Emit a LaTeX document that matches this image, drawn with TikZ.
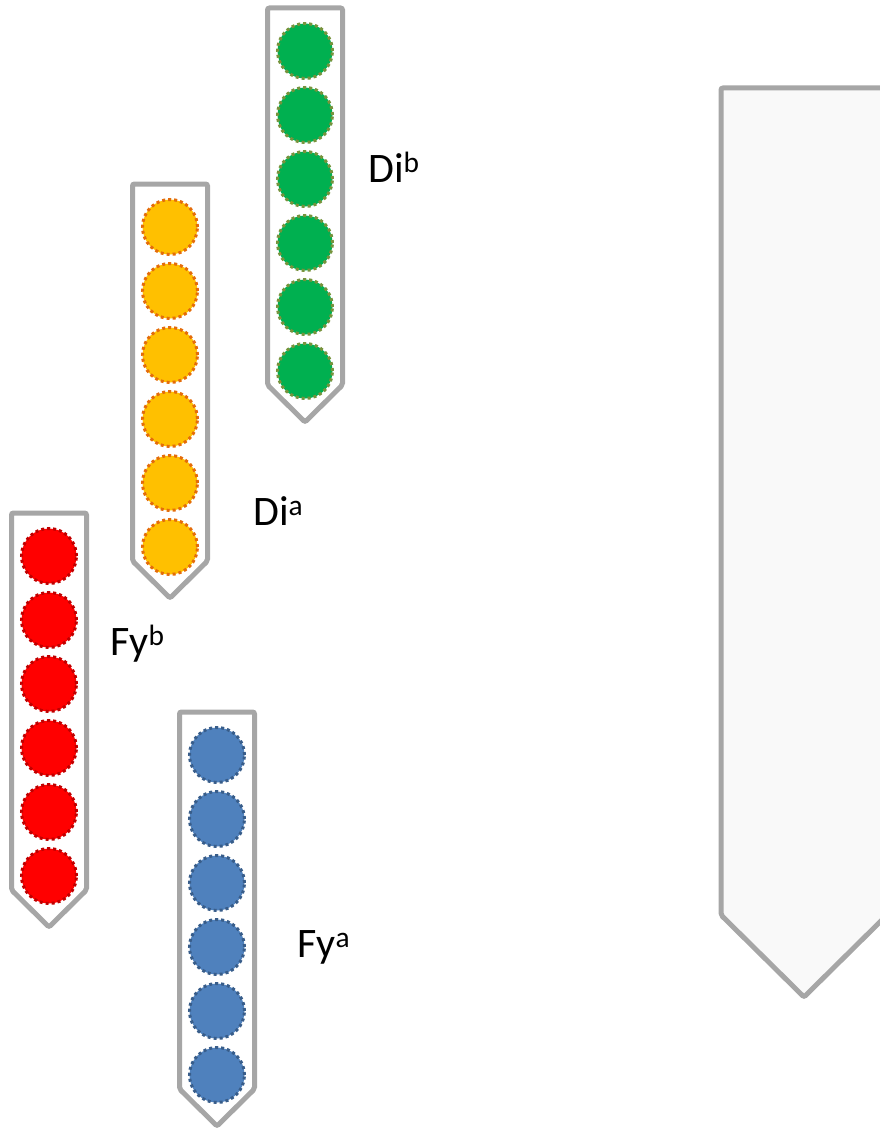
\documentclass[tikz,border=0pt]{standalone}
\usepackage{fontspec}
\setmainfont{Carlito}
\definecolor{tubegray}{HTML}{A6A6A6}
\definecolor{rackfill}{HTML}{F9F9F9}
\definecolor{dibfill}{HTML}{00B050}
\definecolor{dibline}{HTML}{77933C}
\definecolor{diafill}{HTML}{FFC000}
\definecolor{dialine}{HTML}{E46C0A}
\definecolor{fybfill}{HTML}{FF0000}
\definecolor{fybline}{HTML}{C00000}
\definecolor{fyafill}{HTML}{4F81BD}
\definecolor{fyaline}{HTML}{385D8A}
\begin{document}
\begin{tikzpicture}
[x=1pt, y=-1pt, line join=miter,
 tube/.style={draw=tubegray, line width=5pt, fill=white, rounded corners=2pt},
 bead/.style={circle, minimum size=55pt, inner sep=0pt, line width=3pt, dash pattern=on 3pt off 3pt},
 antigen/.style={anchor=base west, inner sep=0pt, font=\fontsize{42}{50}\selectfont}]
\useasboundingbox (0,0) rectangle (880,1129);
\clip (0,0) rectangle (880,1129);
% large holder on the right, cut by the page edge
\draw[tube, fill=rackfill] (804,997)--(721,915)--(721,88)--(887,88)--(887,915)--cycle;
% tubes with six beads each: centre x / top y / colour / name
\foreach \x/\t/\c/\n in {305/8/dib/Dib, 170/184/dia/Dia, 49/513/fyb/Fyb, 217/712/fya/Fya}{
  \draw[tube] (\x,\t+414)--(\x-37.5,\t+377)--(\x-37.5,\t)--(\x+37.5,\t)--(\x+37.5,\t+377)--cycle;
  \foreach \k in {0,...,5}
    \node[bead, fill=\c fill, draw=\c line] (\n-\k) at (\x,\t+43+64*\k) {};
}
\node[antigen] (Dib) at (368,182) {Di\textsuperscript{b}};
\node[antigen] (Dia) at (253,525) {Di\textsuperscript{a}};
\node[antigen] (Fyb) at (110,655) {Fy\textsuperscript{b}};
\node[antigen] (Fya) at (297,957) {Fy\textsuperscript{a}};
\end{tikzpicture}
\end{document}
